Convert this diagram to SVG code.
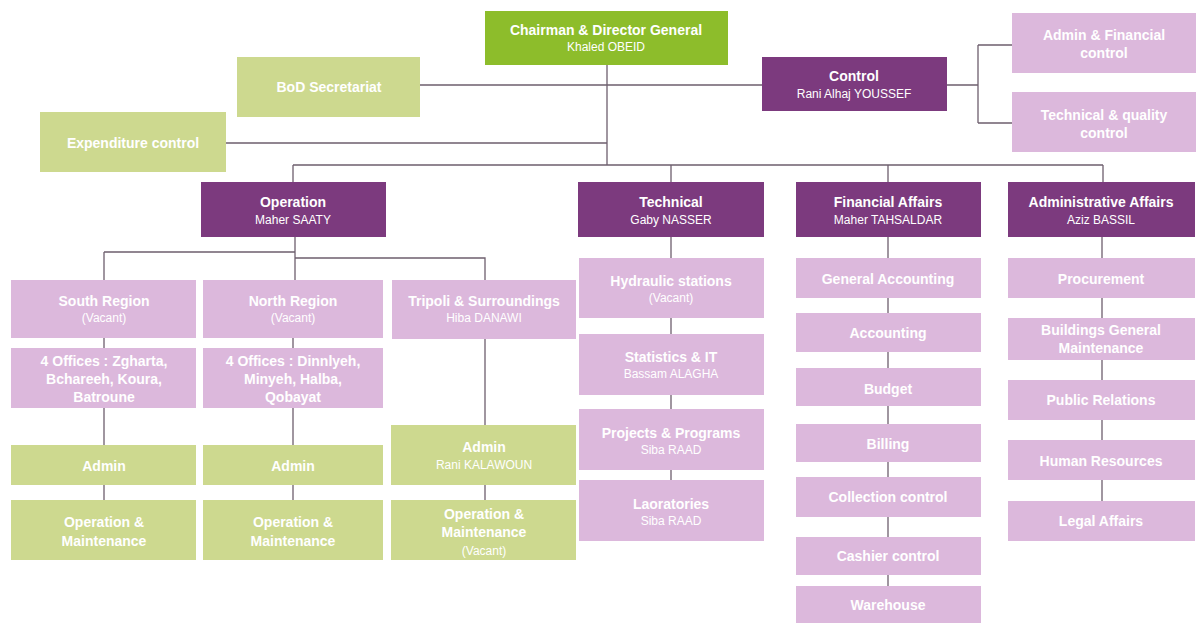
<svg xmlns="http://www.w3.org/2000/svg" width="1200" height="623" viewBox="0 0 1200 623">
<style>
text{font-family:"Liberation Sans",Arial,sans-serif;text-anchor:middle;fill:#fff}
.t{font-weight:bold;font-size:14px}
.s{font-size:12px}
.g1{fill:#8dbd2b}
.g2{fill:#cdd98f}
.p1{fill:#7c3a7e}
.p2{fill:#dcb8dc}
.c{stroke:#6e5f6e;stroke-width:1.3;fill:none}
</style>
<rect width="1200" height="623" fill="#fff"/>
<g id="connectors" class="c">
<path d="M607 65V165M420 85H762M226 143H607M293 165H1103M293 165V182M671 165V182M888 165V182M1103 165V182"/>
<path d="M947 85H978M978 45V123M978 45H1012M978 123H1012"/>
<path d="M295 237V280M104 252H295M104 252V280M295 258H485V280"/>
<path d="M104 338V348M104 408V445M104 485V500"/>
<path d="M293 338V348M293 408V445M293 485V500"/>
<path d="M485 339V425M485 485V500"/>
<path d="M671 237V258M671 318V334M671 395V409M671 470V480"/>
<path d="M888 237V258M888 298V313M888 352V368M888 406V424M888 462V477M888 517V537M888 575V586"/>
<path d="M1102 237V258M1102 298V318M1102 360V380M1102 420V440M1102 480V501"/>
</g>
<g id="chairman"><rect class="g1" x="485" y="11" width="243" height="54"/><text class="t" x="606" y="35">Chairman &amp; Director General</text><text class="s" x="606" y="51">Khaled OBEID</text></g>
<g id="bod"><rect class="g2" x="237" y="57" width="183" height="60"/><text class="t" x="329" y="92">BoD Secretariat</text></g>
<g id="expenditure"><rect class="g2" x="40" y="112" width="186" height="60"/><text class="t" x="133" y="148">Expenditure control</text></g>
<g id="control"><rect class="p1" x="762" y="57" width="185" height="54"/><text class="t" x="854" y="81">Control</text><text class="s" x="854" y="98">Rani Alhaj YOUSSEF</text></g>
<g id="adminfin"><rect class="p2" x="1012" y="13" width="184" height="60"/><text class="t" x="1104" y="40">Admin &amp; Financial</text><text class="t" x="1104" y="58">control</text></g>
<g id="techqual"><rect class="p2" x="1012" y="92" width="184" height="60"/><text class="t" x="1104" y="120">Technical &amp; quality</text><text class="t" x="1104" y="138">control</text></g>

<g id="operation"><rect class="p1" x="201" y="182" width="185" height="55"/><text class="t" x="293" y="207">Operation</text><text class="s" x="293" y="224">Maher SAATY</text></g>
<g id="technical"><rect class="p1" x="578" y="182" width="186" height="55"/><text class="t" x="671" y="207">Technical</text><text class="s" x="671" y="224">Gaby NASSER</text></g>
<g id="financial"><rect class="p1" x="796" y="182" width="185" height="55"/><text class="t" x="888" y="207">Financial Affairs</text><text class="s" x="888" y="224">Maher TAHSALDAR</text></g>
<g id="administrative"><rect class="p1" x="1008" y="182" width="187" height="55"/><text class="t" x="1101" y="207">Administrative Affairs</text><text class="s" x="1101" y="224">Aziz BASSIL</text></g>

<g id="south"><rect class="p2" x="11" y="280" width="185" height="58"/><text class="t" x="104" y="306">South Region</text><text class="s" x="104" y="322">(Vacant)</text></g>
<g id="north"><rect class="p2" x="203" y="280" width="180" height="58"/><text class="t" x="293" y="306">North Region</text><text class="s" x="293" y="322">(Vacant)</text></g>
<g id="tripoli"><rect class="p2" x="392" y="280" width="184" height="59"/><text class="t" x="484" y="306">Tripoli &amp; Surroundings</text><text class="s" x="484" y="322">Hiba DANAWI</text></g>
<g id="southoffices"><rect class="p2" x="11" y="348" width="185" height="60"/><text class="t" x="104" y="366">4 Offices : Zgharta,</text><text class="t" x="104" y="384">Bchareeh, Koura,</text><text class="t" x="104" y="402">Batroune</text></g>
<g id="northoffices"><rect class="p2" x="203" y="348" width="180" height="60"/><text class="t" x="293" y="366">4 Offices : Dinnlyeh,</text><text class="t" x="293" y="384">Minyeh, Halba,</text><text class="t" x="293" y="402">Qobayat</text></g>
<g id="southadmin"><rect class="g2" x="11" y="445" width="185" height="40"/><text class="t" x="104" y="471">Admin</text></g>
<g id="northadmin"><rect class="g2" x="203" y="445" width="180" height="40"/><text class="t" x="293" y="471">Admin</text></g>
<g id="tripoliadmin"><rect class="g2" x="391" y="425" width="185" height="60"/><text class="t" x="484" y="452">Admin</text><text class="s" x="484" y="469">Rani KALAWOUN</text></g>
<g id="southom"><rect class="g2" x="11" y="500" width="185" height="60"/><text class="t" x="104" y="527">Operation &amp;</text><text class="t" x="104" y="546">Maintenance</text></g>
<g id="northom"><rect class="g2" x="203" y="500" width="180" height="60"/><text class="t" x="293" y="527">Operation &amp;</text><text class="t" x="293" y="546">Maintenance</text></g>
<g id="tripoliom"><rect class="g2" x="391" y="500" width="185" height="60"/><text class="t" x="484" y="519">Operation &amp;</text><text class="t" x="484" y="537">Maintenance</text><text class="s" x="484" y="555">(Vacant)</text></g>

<g id="hydraulic"><rect class="p2" x="579" y="258" width="185" height="60"/><text class="t" x="671" y="286">Hydraulic stations</text><text class="s" x="671" y="302">(Vacant)</text></g>
<g id="statistics"><rect class="p2" x="579" y="334" width="185" height="61"/><text class="t" x="671" y="362">Statistics &amp; IT</text><text class="s" x="671" y="378">Bassam ALAGHA</text></g>
<g id="projects"><rect class="p2" x="579" y="409" width="185" height="61"/><text class="t" x="671" y="438">Projects &amp; Programs</text><text class="s" x="671" y="454">Siba RAAD</text></g>
<g id="laboratories"><rect class="p2" x="579" y="480" width="185" height="61"/><text class="t" x="671" y="509">Laoratories</text><text class="s" x="671" y="525">Siba RAAD</text></g>

<g id="genacc"><rect class="p2" x="796" y="258" width="185" height="40"/><text class="t" x="888" y="284">General Accounting</text></g>
<g id="accounting"><rect class="p2" x="796" y="313" width="185" height="39"/><text class="t" x="888" y="338">Accounting</text></g>
<g id="budget"><rect class="p2" x="796" y="368" width="185" height="38"/><text class="t" x="888" y="394">Budget</text></g>
<g id="billing"><rect class="p2" x="796" y="424" width="185" height="38"/><text class="t" x="888" y="449">Billing</text></g>
<g id="collection"><rect class="p2" x="796" y="477" width="185" height="40"/><text class="t" x="888" y="502">Collection control</text></g>
<g id="cashier"><rect class="p2" x="796" y="537" width="185" height="38"/><text class="t" x="888" y="561">Cashier control</text></g>
<g id="warehouse"><rect class="p2" x="796" y="586" width="185" height="37"/><text class="t" x="888" y="610">Warehouse</text></g>

<g id="procurement"><rect class="p2" x="1008" y="258" width="187" height="40"/><text class="t" x="1101" y="284">Procurement</text></g>
<g id="buildings"><rect class="p2" x="1008" y="318" width="187" height="42"/><text class="t" x="1101" y="335">Buildings General</text><text class="t" x="1101" y="353">Maintenance</text></g>
<g id="publicrel"><rect class="p2" x="1008" y="380" width="187" height="40"/><text class="t" x="1101" y="405">Public Relations</text></g>
<g id="hr"><rect class="p2" x="1008" y="440" width="187" height="40"/><text class="t" x="1101" y="466">Human Resources</text></g>
<g id="legal"><rect class="p2" x="1008" y="501" width="187" height="40"/><text class="t" x="1101" y="526">Legal Affairs</text></g>
</svg>
